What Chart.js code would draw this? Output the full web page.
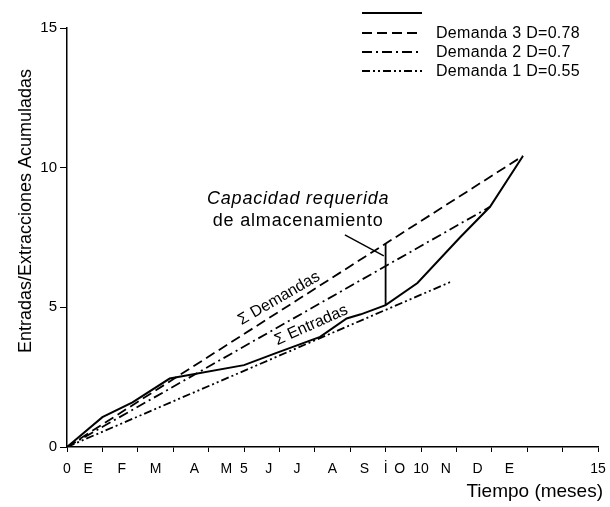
<!DOCTYPE html>
<html>
<head>
<meta charset="utf-8">
<script src="https://cdn.jsdelivr.net/npm/chart.js@4"></script>
<style>
  html, body { margin: 0; background: #fff; }
  #wrap { width: 610px; height: 507px; }
</style>
</head>
<body>
<div id="wrap"><canvas id="chart"></canvas></div>
<script>
// --- Data ---
const entradasX = [0, 1.0, 1.85, 2.9, 5.0, 5.9, 7.15, 7.9, 8.3, 9.0, 9.9, 11.1, 11.95, 12.88];
const entradasY = [0, 1.07, 1.6, 2.45, 2.93, 3.36, 3.94, 4.6, 4.75, 5.08, 5.87, 7.5, 8.6, 10.42];

const demanda3X = [0, 12.88];
const demanda3Y = [0, 10.42];
const demanda2X = [0, 11.95];
const demanda2Y = [0, 8.6];
const demanda1X = [0, 10.82];
const demanda1Y = [0, 5.9];

// storage capacity bar and the leader line from its label
const capacidadX = [9, 9];
const capacidadY = [5.08, 7.27];
const leaderX = [7.85, 8.95];
const leaderY = [7.59, 6.84];

// x axis: integer ticks plus month letters in between
const intTicks = [0, 1, 2, 3, 4, 5, 6, 7, 8, 9, 10, 11, 12, 13, 14, 15];
const intLabels = ['0', '', '', '', '', '5', '', '', '', 'İ', '10', '', '', '', '', '15'];
const monthPos = [0.6, 1.55, 2.5, 3.6, 4.5, 5.7, 6.5, 7.5, 8.4, 9.4, 10.7, 11.6, 12.5];
const monthLabels = ['E', 'F', 'M', 'A', 'M', 'J', 'J', 'A', 'S', 'O', 'N', 'D', 'E'];
const yTicks = [0, 5, 10, 15];

const legendLabels = ['', 'Demanda 3 D=0.78', 'Demanda 2 D=0.7', 'Demanda 1 D=0.55'];

const FONT = "'Liberation Sans', Arial, sans-serif";
const DASHED = [10, 5];
const DASHDOT = [10, 4, 2, 4];
const DASHDOTDOT = [8, 3, 2, 3, 2, 3];

function toPoints(xs, ys) {
    return xs.map((x, i) => ({ x: x, y: ys[i] }));
}

function line(data, dash, width) {
    return {
        data: data,
        borderColor: '#000',
        borderWidth: width,
        borderDash: dash,
        pointRadius: 0,
        fill: false,
        tension: 0
    };
}

// --- Legend, axis titles and annotations drawn on top ---
const extrasPlugin = {
    id: 'extras',
    afterDraw(chart) {
        const ctx = chart.ctx;
        const xs = chart.scales.x, ys = chart.scales.y;
        ctx.save();
        ctx.strokeStyle = '#000';
        ctx.fillStyle = '#000';
        ctx.textBaseline = 'middle';

        // legend
        const rows = [
            { y: 13, dash: [], w: 2 },
            { y: 33, dash: DASHED, w: 1.8 },
            { y: 52, dash: DASHDOT, w: 1.8 },
            { y: 71, dash: DASHDOTDOT, w: 1.8 }
        ];
        ctx.font = '16px ' + FONT;
        ctx.letterSpacing = '0.3px';
        rows.forEach((r, i) => {
            ctx.lineWidth = r.w;
            ctx.setLineDash(r.dash);
            ctx.beginPath();
            ctx.moveTo(362, r.y);
            ctx.lineTo(422, r.y);
            ctx.stroke();
            if (legendLabels[i]) ctx.fillText(legendLabels[i], 436, r.y + 1);
        });
        ctx.setLineDash([]);

        // axis titles
        ctx.save();
        ctx.font = '18px ' + FONT;
        ctx.letterSpacing = '0px';
        ctx.textAlign = 'center';
        ctx.translate(26, 211);
        ctx.rotate(-Math.PI / 2);
        ctx.fillText('Entradas/Extracciones Acumuladas', 0, 0);
        ctx.restore();

        ctx.font = '19px ' + FONT;
        ctx.letterSpacing = '0px';
        ctx.textAlign = 'right';
        ctx.textBaseline = 'alphabetic';
        ctx.fillText('Tiempo (meses)', 603, 497);
        ctx.textBaseline = 'middle';

        // capacity label
        ctx.textAlign = 'center';
        ctx.letterSpacing = '0.8px';
        ctx.font = 'italic 18px ' + FONT;
        ctx.fillText('Capacidad requerida', xs.getPixelForValue(6.53), ys.getPixelForValue(8.88));
        ctx.font = '18px ' + FONT;
        ctx.fillText('de almacenamiento', xs.getPixelForValue(6.53), ys.getPixelForValue(8.09));

        // rotated series labels
        function rotated(text, x, y, deg) {
            ctx.save();
            ctx.translate(xs.getPixelForValue(x), ys.getPixelForValue(y));
            ctx.rotate(deg * Math.PI / 180);
            ctx.fillText(text, 0, 0);
            ctx.restore();
        }
        ctx.letterSpacing = '0px';
        ctx.font = '16px ' + FONT;
        rotated('Σ Demandas', 5.99, 5.32, -30);
        rotated('Σ Entradas', 6.9, 4.36, -24);
        ctx.restore();
    }
};

const allXTicks = intTicks.concat(monthPos);

new Chart(document.getElementById('chart'), {
    type: 'line',
    data: {
        datasets: [
            line(toPoints(entradasX, entradasY), [], 2),
            line(toPoints(demanda3X, demanda3Y), DASHED, 1.8),
            line(toPoints(demanda2X, demanda2Y), DASHDOT, 1.8),
            line(toPoints(demanda1X, demanda1Y), DASHDOTDOT, 1.8),
            line(toPoints(capacidadX, capacidadY), [], 1.8),
            line(toPoints(leaderX, leaderY), [], 1.4)
        ]
    },
    options: {
        responsive: true,
        maintainAspectRatio: false,
        animation: false,
        layout: { padding: { top: 28, right: 12, left: 0, bottom: 0 } },
        plugins: {
            legend: { display: false },
            tooltip: { enabled: false }
        },
        scales: {
            x: {
                type: 'linear',
                min: 0,
                max: 15,
                afterBuildTicks(scale) {
                    scale.ticks = allXTicks.map(v => ({ value: v }));
                },
                afterFit(scale) { scale.height = 60; },
                ticks: {
                    autoSkip: false,
                    maxRotation: 0,
                    color: '#000',
                    padding: 9,
                    font: { family: FONT, size: 14 },
                    callback(value) {
                        const i = intTicks.indexOf(value);
                        if (i >= 0) return intLabels[i];
                        const m = monthPos.indexOf(value);
                        return m >= 0 ? monthLabels[m] : '';
                    }
                },
                grid: {
                    drawOnChartArea: false,
                    drawTicks: true,
                    tickLength: 5,
                    tickColor: ctx => (ctx.tick && Number.isInteger(ctx.tick.value)) ? '#000' : 'rgba(0,0,0,0)'
                },
                border: { color: '#000', width: 1.5 }
            },
            y: {
                type: 'linear',
                min: 0,
                max: 15,
                afterBuildTicks(scale) {
                    scale.ticks = yTicks.map(v => ({ value: v }));
                },
                afterFit(scale) { scale.width = 67; },
                ticks: {
                    color: '#000',
                    padding: 3,
                    font: { family: FONT, size: 15 }
                },
                grid: {
                    drawOnChartArea: false,
                    drawTicks: true,
                    tickLength: 7,
                    tickColor: '#000'
                },
                border: { color: '#000', width: 1.5 }
            }
        }
    },
    plugins: [extrasPlugin]
});
</script>
</body>
</html>
